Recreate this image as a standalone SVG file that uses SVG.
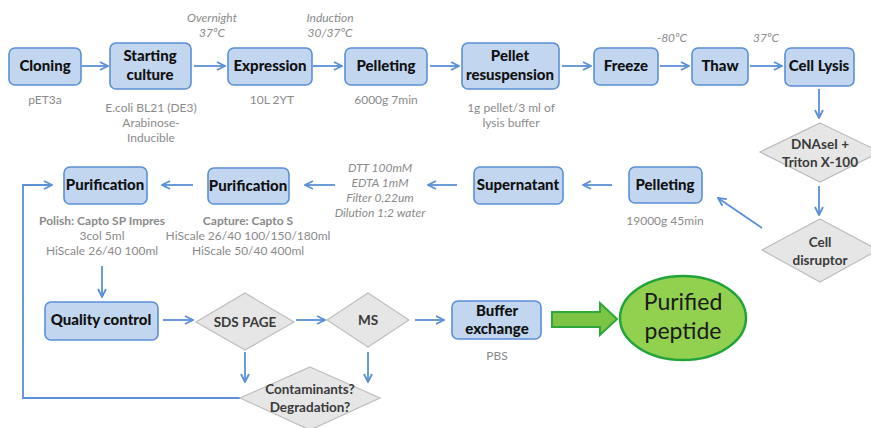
<svg xmlns="http://www.w3.org/2000/svg" width="871" height="428" viewBox="0 0 871 428">
<defs>
<marker id="ah" markerWidth="10" markerHeight="10" refX="9" refY="5" orient="auto" markerUnits="userSpaceOnUse">
<path d="M1,1 L9,5 L1,9" fill="none" stroke="#5b8fd6" stroke-width="1.8"/>
</marker>
<style>
.box{fill:#c3d6f0;stroke:#5b8fd6;stroke-width:1.6}
.dia{fill:#e6e6e6;stroke:#bdbdbd;stroke-width:1.2}
.t{font-family:Lato,"Liberation Sans",sans-serif;font-weight:900;font-size:15px;fill:#111;text-anchor:middle}
.dt{font-family:Lato,"Liberation Sans",sans-serif;font-weight:bold;font-size:13.5px;fill:#3a3a3a;text-anchor:middle}
.g{font-family:Lato,"Liberation Sans",sans-serif;font-size:12px;fill:#8a8a8a;text-anchor:middle}
.gb{font-family:Lato,"Liberation Sans",sans-serif;font-size:12px;font-weight:bold;fill:#8a8a8a;text-anchor:middle}
.i{font-family:Lato,"Liberation Sans",sans-serif;font-style:italic;font-size:12px;fill:#8a8a8a;text-anchor:middle}
.c{fill:none;stroke:#5b8fd6;stroke-width:1.8}
.big{font-family:Lato,"Liberation Sans",sans-serif;font-size:23px;fill:#1a1a1a;text-anchor:middle}
</style>
</defs>
<rect width="871" height="428" fill="#fff"/>

<g id="connectors">
<line class="c" x1="82" y1="66" x2="108" y2="66" marker-end="url(#ah)"/>
<line class="c" x1="194" y1="66" x2="225" y2="66" marker-end="url(#ah)"/>
<line class="c" x1="313" y1="66" x2="342" y2="66" marker-end="url(#ah)"/>
<line class="c" x1="430" y1="66" x2="459" y2="66" marker-end="url(#ah)"/>
<line class="c" x1="562" y1="66" x2="591" y2="66" marker-end="url(#ah)"/>
<line class="c" x1="660" y1="66" x2="689" y2="66" marker-end="url(#ah)"/>
<line class="c" x1="750" y1="66" x2="782" y2="66" marker-end="url(#ah)"/>
<line class="c" x1="819" y1="89" x2="819" y2="118" marker-end="url(#ah)"/>
<line class="c" x1="819" y1="186" x2="819" y2="215" marker-end="url(#ah)"/>
<line class="c" x1="762" y1="228" x2="718" y2="198" marker-end="url(#ah)"/>
<line class="c" x1="612" y1="185" x2="583" y2="185" marker-end="url(#ah)"/>
<line class="c" x1="457" y1="185" x2="428" y2="185" marker-end="url(#ah)"/>
<line class="c" x1="335" y1="185" x2="305" y2="185" marker-end="url(#ah)"/>
<line class="c" x1="193" y1="185" x2="162" y2="185" marker-end="url(#ah)"/>
<line class="c" x1="102" y1="266" x2="102" y2="297" marker-end="url(#ah)"/>
<line class="c" x1="163" y1="320" x2="193" y2="320" marker-end="url(#ah)"/>
<line class="c" x1="296" y1="320" x2="325" y2="320" marker-end="url(#ah)"/>
<line class="c" x1="415" y1="320" x2="444" y2="320" marker-end="url(#ah)"/>
<line class="c" x1="245" y1="352" x2="245" y2="382" marker-end="url(#ah)"/>
<line class="c" x1="368" y1="352" x2="368" y2="382" marker-end="url(#ah)"/>
<polyline class="c" points="240,398 23,398 23,185 52,185" marker-end="url(#ah)"/>
<polygon points="552,312 600,312 600,303 617,319 600,335 600,327 552,327" fill="#7cc544" stroke="#2ea83a" stroke-width="2"/>
</g>

<g id="labels">
<text class="i" x="212" y="22">Overnight</text>
<text class="i" x="212" y="37">37ºC</text>
<text class="i" x="330" y="22">Induction</text>
<text class="i" x="330" y="37">30/37ºC</text>
<text class="i" x="672" y="42">-80ºC</text>
<text class="i" x="766" y="42">37ºC</text>
<text class="g" x="45" y="104">pET3a</text>
<text class="g" x="151" y="112">E.coli BL21 (DE3)</text>
<text class="g" x="151" y="127">Arabinose-</text>
<text class="g" x="151" y="142">Inducible</text>
<text class="g" x="272" y="104">10L 2YT</text>
<text class="g" x="386" y="104">6000g 7min</text>
<text class="g" x="511" y="112">1g pellet/3 ml of</text>
<text class="g" x="511" y="127">lysis buffer</text>
<text class="g" x="665" y="225">19000g 45min</text>
<text class="i" x="380" y="172">DTT  100mM</text>
<text class="i" x="380" y="187">EDTA 1mM</text>
<text class="i" x="380" y="202">Filter 0,22um</text>
<text class="i" x="380" y="217">Dilution 1:2 water</text>
<text class="gb" x="248" y="225">Capture: Capto S</text>
<text class="g" x="248" y="240">HiScale 26/40 100/150/180ml</text>
<text class="g" x="248" y="255">HiScale 50/40 400ml</text>
<text class="gb" x="102" y="225">Polish: Capto SP Impres</text>
<text class="g" x="102" y="240">3col 5ml</text>
<text class="g" x="102" y="255">HiScale 26/40 100ml</text>
<text class="g" x="497" y="360">PBS</text>
</g>

<g id="cloning"><rect class="box" x="9" y="48" width="72" height="37" rx="6"/><text class="t" x="45" y="71">Cloning</text></g>
<g id="starting"><rect class="box" x="110" y="43" width="81" height="46" rx="6"/><text class="t" x="150" y="61">Starting</text><text class="t" x="150" y="80">culture</text></g>
<g id="expression"><rect class="box" x="228" y="48" width="84" height="37" rx="6"/><text class="t" x="270" y="71">Expression</text></g>
<g id="pelleting1"><rect class="box" x="345" y="48" width="82" height="37" rx="6"/><text class="t" x="386" y="71">Pelleting</text></g>
<g id="resuspension"><rect class="box" x="462" y="43" width="97" height="46" rx="6"/><text class="t" x="510" y="61">Pellet</text><text class="t" x="510" y="80">resuspension</text></g>
<g id="freeze"><rect class="box" x="594" y="48" width="64" height="37" rx="6"/><text class="t" x="626" y="71">Freeze</text></g>
<g id="thaw"><rect class="box" x="692" y="48" width="56" height="37" rx="6"/><text class="t" x="720" y="71">Thaw</text></g>
<g id="celllysis"><rect class="box" x="785" y="48" width="69" height="38" rx="6"/><text class="t" x="819" y="71">Cell Lysis</text></g>
<g id="dnase"><polygon class="dia" points="820,123 880,152 820,182 760,152"/><text class="dt" x="820" y="149">DNAseI +</text><text class="dt" x="820" y="167">Triton X-100</text></g>
<g id="disruptor"><polygon class="dia" points="820,219 878,250 820,282 762,250"/><text class="dt" x="820" y="247">Cell</text><text class="dt" x="820" y="265">disruptor</text></g>
<g id="pelleting2"><rect class="box" x="629" y="167" width="73" height="36" rx="6"/><text class="t" x="665" y="190">Pelleting</text></g>
<g id="supernatant"><rect class="box" x="474" y="167" width="89" height="37" rx="6"/><text class="t" x="518" y="190">Supernatant</text></g>
<g id="purification2"><rect class="box" x="208" y="168" width="81" height="36" rx="6"/><text class="t" x="248" y="191">Purification</text></g>
<g id="purification1"><rect class="box" x="64" y="167" width="83" height="37" rx="6"/><text class="t" x="105" y="190">Purification</text></g>
<g id="qc"><rect class="box" x="45" y="302" width="113" height="38" rx="6"/><text class="t" x="101" y="325">Quality control</text></g>
<g id="sdspage"><polygon class="dia" points="245,293 294,322 245,350 196,322"/><text class="dt" x="245" y="327">SDS PAGE</text></g>
<g id="ms"><polygon class="dia" points="368,293 409,320 368,347 327,320"/><text class="dt" x="368" y="325">MS</text></g>
<g id="buffer"><rect class="box" x="452" y="301" width="89" height="38" rx="6"/><text class="t" x="497" y="316">Buffer</text><text class="t" x="497" y="334">exchange</text></g>
<g id="contaminants"><polygon class="dia" points="310,367 380,398 310,430 240,398"/><text class="dt" x="310" y="394">Contaminants?</text><text class="dt" x="310" y="412">Degradation?</text></g>
<g id="purified"><ellipse cx="683" cy="318" rx="63" ry="42" fill="#92d050" stroke="#22a33a" stroke-width="2.5"/><text class="big" x="683" y="310">Purified</text><text class="big" x="683" y="339">peptide</text></g>
</svg>
